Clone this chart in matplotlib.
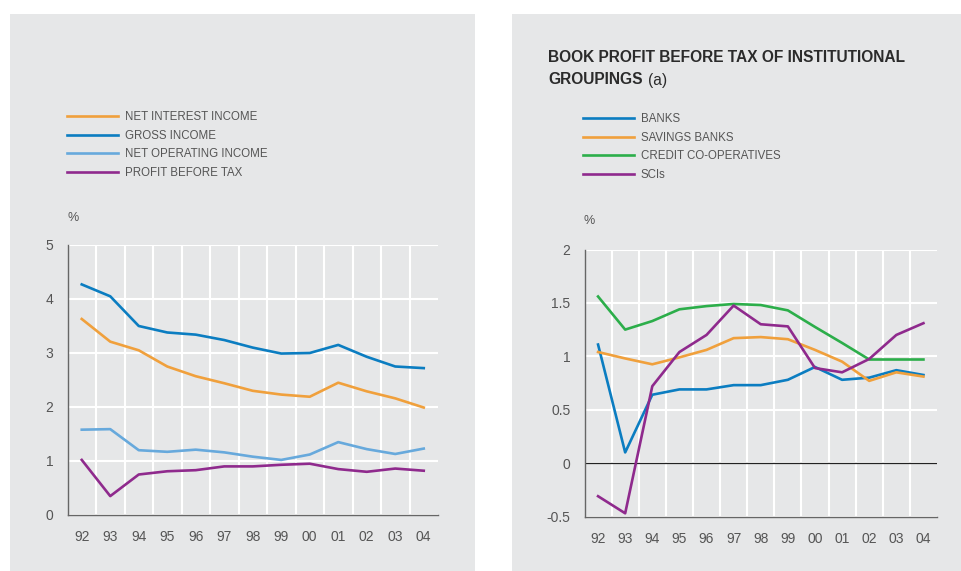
import matplotlib.pyplot as plt
import numpy as np
from matplotlib.patches import Rectangle

plt.rcParams['font.family'] = ['Liberation Sans', 'DejaVu Sans']

years = ['92', '93', '94', '95', '96', '97', '98', '99', '00', '01', '02', '03', '04']

# left panel
net_interest = [3.63, 3.21, 3.05, 2.75, 2.57, 2.44, 2.30, 2.23, 2.19, 2.45, 2.29, 2.16, 1.99]
gross_income = [4.27, 4.05, 3.50, 3.38, 3.34, 3.24, 3.10, 2.99, 3.00, 3.15, 2.93, 2.75, 2.72]
net_operating = [1.58, 1.59, 1.20, 1.17, 1.21, 1.16, 1.08, 1.02, 1.12, 1.35, 1.22, 1.13, 1.23]
profit_before_tax = [1.02, 0.35, 0.75, 0.81, 0.83, 0.90, 0.90, 0.93, 0.95, 0.85, 0.80, 0.86, 0.82]

# right panel
banks = [1.11, 0.10, 0.64, 0.69, 0.69, 0.73, 0.73, 0.78, 0.90, 0.78, 0.80, 0.87, 0.825]
savings_banks = [1.04, 0.98, 0.925, 0.99, 1.06, 1.17, 1.18, 1.16, 1.06, 0.95, 0.77, 0.85, 0.81]
credit_coops = [1.56, 1.25, 1.33, 1.44, 1.47, 1.49, 1.48, 1.43, 1.275, 1.125, 0.97, 0.97, 0.97]
scis = [-0.31, -0.47, 0.72, 1.04, 1.20, 1.475, 1.30, 1.28, 0.89, 0.85, 0.975, 1.20, 1.31]

ORANGE = '#F0A03C'
BLUE = '#0B7DC1'
LIGHTBLUE = '#67A9DC'
PURPLE = '#8F2A8D'
GREEN = '#2CAE4A'
PANEL = '#E6E7E8'
TXT = '#555555'

W, H = 962, 571
fig = plt.figure(figsize=(W / 100, H / 100), dpi=100)
fig.patch.set_facecolor('white')

# grey background panels
fig.patches.append(Rectangle((10 / W, 0), 465 / W, (H - 14) / H, transform=fig.transFigure,
                             facecolor=PANEL, edgecolor='none', zorder=-10))
fig.patches.append(Rectangle((512 / W, 0), 450 / W, (H - 14) / H, transform=fig.transFigure,
                             facecolor=PANEL, edgecolor='none', zorder=-10))

x = np.arange(len(years))


def style_axes(ax, ymin, ymax, yticks, ylabels):
    ax.set_facecolor(PANEL)
    ax.set_xlim(-0.5, len(years) - 0.5)
    ax.set_ylim(ymin, ymax)
    ax.set_yticks(yticks)
    ax.set_yticklabels(ylabels)
    ax.set_xticks(x)
    ax.set_xticklabels(years)
    ax.set_xticks(np.arange(0.5, len(years) - 1, 1), minor=True)
    ax.grid(axis='y', which='major', color='white', linewidth=1.5)
    ax.grid(axis='x', which='minor', color='white', linewidth=1.5)
    ax.set_axisbelow(True)
    ax.tick_params(which='both', length=0, labelsize=10, colors=TXT)
    ax.tick_params(axis='x', pad=11)
    ax.tick_params(axis='y', pad=10)
    for s in ['top', 'right']:
        ax.spines[s].set_visible(False)
    for s in ['left', 'bottom']:
        ax.spines[s].set_color('#666666')
        ax.spines[s].set_linewidth(1.0)


legend_style = dict(loc='upper left', bbox_transform=fig.transFigure, frameon=False, fontsize=8.3,
                    handlelength=4.4, handletextpad=0.6, labelspacing=0.58, labelcolor=TXT,
                    borderaxespad=0, borderpad=0)

# ---- left chart
ax1 = fig.add_axes([67.5 / W, (H - 515) / H, (438 - 67.5) / W, 270 / H])
style_axes(ax1, 0, 5, [0, 1, 2, 3, 4, 5], ['0', '1', '2', '3', '4', '5'])
lw = 1.9
ax1.plot(x, net_interest, color=ORANGE, lw=lw, label='NET INTEREST INCOME')
ax1.plot(x, gross_income, color=BLUE, lw=lw, label='GROSS INCOME')
ax1.plot(x, net_operating, color=LIGHTBLUE, lw=lw, label='NET OPERATING INCOME')
ax1.plot(x, profit_before_tax, color=PURPLE, lw=lw, label='PROFIT BEFORE TAX')
ax1.legend(bbox_to_anchor=(67 / W, 1 - 111 / H), **legend_style)
fig.text(73 / W, 1 - 218 / H, '%', ha='center', va='center', fontsize=9, color=TXT)

# ---- right chart
ax2 = fig.add_axes([584.5 / W, (H - 516.5) / H, (937 - 584.5) / W, (516.5 - 249.5) / H])
style_axes(ax2, -0.5, 2, [-0.5, 0, 0.5, 1, 1.5, 2], ['-0.5', '0', '0.5', '1', '1.5', '2'])
ax2.axhline(0, color='#222222', lw=0.9, zorder=1.5)
ax2.plot(x, banks, color=BLUE, lw=lw, label='BANKS')
ax2.plot(x, savings_banks, color=ORANGE, lw=lw, label='SAVINGS BANKS')
ax2.plot(x, credit_coops, color=GREEN, lw=lw, label='CREDIT CO-OPERATIVES')
ax2.plot(x, scis, color=PURPLE, lw=lw, label='SCIs')
ax2.legend(bbox_to_anchor=(583 / W, 1 - 113 / H), **legend_style)
fig.text(589 / W, 1 - 221 / H, '%', ha='center', va='center', fontsize=9, color=TXT)

fig.text(548 / W, 1 - 58 / H, 'BOOK PROFIT BEFORE TAX OF INSTITUTIONAL', ha='left', va='center',
         fontsize=11.2, fontweight='bold', color='#2b2b2b')
fig.text(548 / W, 1 - 80 / H, 'GROUPINGS', ha='left', va='center',
         fontsize=11.2, fontweight='bold', color='#2b2b2b')
fig.text(648 / W, 1 - 80 / H, '(a)', ha='left', va='center', fontsize=11.2, color='#2b2b2b')

fig.savefig('out.png', dpi=100, facecolor='white')
